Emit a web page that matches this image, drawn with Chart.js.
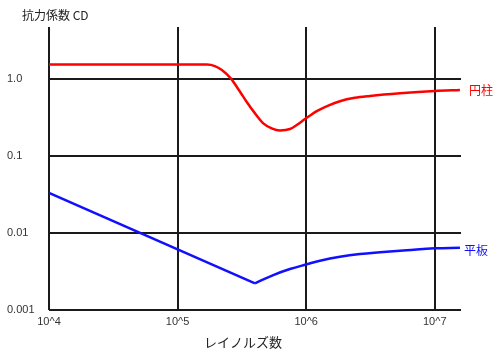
<!DOCTYPE html>
<html><head><meta charset="utf-8">
<script src="https://cdn.jsdelivr.net/npm/chart.js@4/dist/chart.umd.min.js"></script>
<style>html,body{margin:0;padding:0;background:#fff;overflow:hidden;}</style>
</head><body>
<canvas id="c" width="500" height="357" style="display:block;width:500px;height:357px"></canvas>
<script>
// ---- data ----
const cylinderRe = [1e4, 5e4, 1.2e5, 1.69e5, 1.95e5, 2.21e5, 2.59e5, 3.06e5, 3.44e5, 4.0e5, 4.64e5, 5.39e5, 6.26e5, 7.48e5, 8.44e5, 9.79e5, 1.22e6, 1.5e6, 1.83e6, 2.39e6, 3.13e6, 5.36e6, 1e7, 1.57e7];
const cylinderCd = [1.56, 1.56, 1.56, 1.56, 1.49, 1.32, 1.03, 0.69, 0.511, 0.361, 0.268, 0.231, 0.217, 0.226, 0.255, 0.305, 0.39, 0.46, 0.52, 0.575, 0.607, 0.658, 0.705, 0.726];
const plateRe = [1e4, 4.0e5, 5.55e5, 7.48e5, 1.01e6, 1.28e6, 1.83e6, 2.62e6, 3.75e6, 6.04e6, 1e7, 1.57e7];
const plateCd = [0.0334, 0.00222, 0.00285, 0.00341, 0.00393, 0.00438, 0.00493, 0.00535, 0.00563, 0.00597, 0.00634, 0.00645];
const plateKinkIndex = 1; // sharp corner at the minimum
const xTickValues = [1e4, 1e5, 1e6, 1e7];
const xTickLabels = ['10^4', '10^5', '10^6', '10^7'];
const yTickValues = [0.001, 0.01, 0.1, 1];
const yTickLabels = ['0.001', '0.01', '0.1', '1.0'];
const seriesNames = ['円柱', '平板'];
const yAxisTitle = '抗力係数 CD';
const xAxisTitle = 'レイノルズ数';

const RED = '#ff0000', BLUE = '#1010ff';
const pts = (xs, ys) => xs.map((x, i) => ({x, y: ys[i]}));

const textPlugin = {
  id: 'texts',
  afterDraw(chart) {
    const ctx = chart.ctx, xs = chart.scales.x, ys = chart.scales.y;
    ctx.save();
    ctx.textBaseline = 'middle';
    ctx.fillStyle = '#222';
    ctx.font = '12px "Noto Sans CJK JP"';
    ctx.textAlign = 'left';
    ctx.fillText(yAxisTitle, 22, 15);
    ctx.font = '13px "Noto Sans CJK JP"';
    ctx.textAlign = 'center';
    ctx.fillText(xAxisTitle, 243, 342);
    ctx.font = '12px "Noto Sans CJK JP"';
    ctx.textAlign = 'left';
    ctx.fillStyle = RED;
    ctx.fillText(seriesNames[0], xs.getPixelForValue(cylinderRe[cylinderRe.length-1]) + 9, ys.getPixelForValue(cylinderCd[cylinderCd.length-1]));
    ctx.fillStyle = BLUE;
    ctx.fillText(seriesNames[1], xs.getPixelForValue(plateRe[plateRe.length-1]) + 4, ys.getPixelForValue(plateCd[plateCd.length-1]) + 3);
    ctx.restore();
  }
};

new Chart(document.getElementById('c'), {
  type: 'line',
  data: {
    datasets: [
      { label: seriesNames[0], data: pts(cylinderRe, cylinderCd), borderColor: RED, borderWidth: 2.5, pointRadius: 0, cubicInterpolationMode: 'monotone', fill: false },
      { label: seriesNames[1], data: pts(plateRe.slice(0, plateKinkIndex + 1), plateCd.slice(0, plateKinkIndex + 1)), borderColor: BLUE, borderWidth: 2.5, pointRadius: 0, tension: 0, fill: false },
      { label: seriesNames[1], data: pts(plateRe.slice(plateKinkIndex), plateCd.slice(plateKinkIndex)), borderColor: BLUE, borderWidth: 2.5, pointRadius: 0, tension: 0.4, fill: false }
    ]
  },
  options: {
    responsive: false,
    devicePixelRatio: 1,
    animation: false,
    layout: { padding: { left: 7, top: 27, right: 39, bottom: 0 } },
    plugins: { legend: { display: false }, tooltip: { enabled: false }, title: { display: false } },
    scales: {
      x: {
        type: 'logarithmic', min: 1e4, max: 1.6e7,
        afterBuildTicks: s => { s.ticks = xTickValues.map(v => ({value: v})); },
        afterFit: s => { s.height = 47; },
        ticks: { callback: (v, i) => xTickLabels[i], autoSkip: false, maxRotation: 0, padding: 5,
                 font: { family: 'Liberation Sans', size: 11 }, color: '#333' },
        grid: { color: '#1a1a1a', lineWidth: 2, drawTicks: false },
        border: { display: false }
      },
      y: {
        type: 'logarithmic', min: 0.001, max: 4.8,
        afterBuildTicks: s => { s.ticks = yTickValues.map(v => ({value: v})); },
        afterFit: s => { s.width = 42; },
        ticks: { callback: (v, i) => yTickLabels[i], autoSkip: false, crossAlign: 'far', padding: 0,
                 font: { family: 'Liberation Sans', size: 11 }, color: '#333' },
        grid: { color: '#1a1a1a', lineWidth: 2, drawTicks: false },
        border: { display: false }
      }
    }
  },
  plugins: [textPlugin]
});
</script>
</body></html>
